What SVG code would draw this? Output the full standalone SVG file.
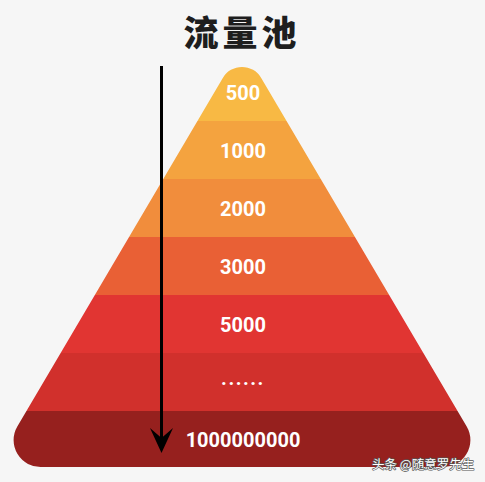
<svg xmlns="http://www.w3.org/2000/svg" width="485" height="482" viewBox="0 0 485 482">
  <style>
    .lbl { font-family: Roboto, "Liberation Sans", sans-serif; font-weight: 700; font-size: 20px; fill: #ffffff; text-anchor: middle; }
    .title { font-family: "Noto Sans CJK SC", sans-serif; font-weight: 900; font-size: 35px; fill: #1e1e1e; text-anchor: middle; letter-spacing: 4px; }
    .wm { font-family: "Noto Sans CJK SC", sans-serif; font-size: 12.5px; fill: #ffffff; stroke: #555555; stroke-width: 1.4px; paint-order: stroke; stroke-linejoin: round; }
  </style>
  <defs>
    <clipPath id="pyr">
      <path d="M 222.8 77.9 A 22.3 22.3 0 0 1 261.2 77.9 L 466.7 426.4 A 27 27 0 0 1 442 467 L 42 467 A 27 27 0 0 1 17.3 426.4 Z"/>
    </clipPath>
  </defs>
  <rect width="485" height="482" fill="#f6f6f6"/>
  <text class="title" x="242" y="46">流量池</text>
  <g clip-path="url(#pyr)">
    <g id="band-500"><rect x="0" y="40" width="485" height="81" fill="#f8b944"/><text class="lbl" x="243" y="100">500</text></g>
    <g id="band-1000"><rect x="0" y="121" width="485" height="58" fill="#f4a33f"/><text class="lbl" x="243" y="158">1000</text></g>
    <g id="band-2000"><rect x="0" y="179" width="485" height="58" fill="#f18d3c"/><text class="lbl" x="243" y="216">2000</text></g>
    <g id="band-3000"><rect x="0" y="237" width="485" height="58" fill="#e96035"/><text class="lbl" x="243" y="274">3000</text></g>
    <g id="band-5000"><rect x="0" y="295" width="485" height="58" fill="#e13532"/><text class="lbl" x="243" y="332">5000</text></g>
    <g id="band-dots"><rect x="0" y="353" width="485" height="58" fill="#d1302c"/><text class="lbl" x="243" y="385" style="letter-spacing:1.5px">......</text></g>
    <g id="band-bottom"><rect x="0" y="411" width="485" height="60" fill="#96201e"/><text class="lbl" x="243" y="447">1000000000</text></g>
  </g>
  <g id="connectors">
    <line x1="161.5" y1="66" x2="161.5" y2="440" stroke="#000000" stroke-width="3"/>
    <path d="M 161.5 453 L 150 428 L 161.5 438 L 173 428 Z" fill="#000000"/>
  </g>
  <text class="wm" x="372" y="469">头条 @随意罗先生</text>
</svg>
